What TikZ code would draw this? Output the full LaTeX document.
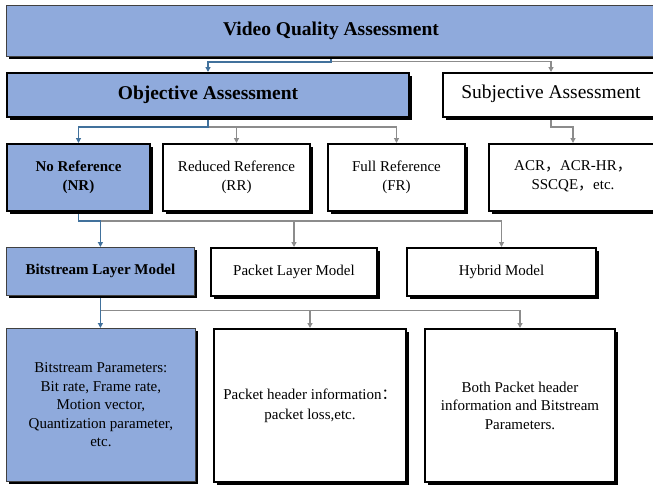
\documentclass[tikz,border=0pt]{standalone}
\usepackage{fontspec}
\setmainfont{Liberation Serif}
\newfontfamily\cjk{Noto Sans CJK SC}
\usetikzlibrary{arrows.meta,shadows}
\definecolor{c8faadc}{RGB}{143,170,220}
\definecolor{c41719c}{RGB}{65,113,156}
\definecolor{c8c8c8c}{RGB}{140,140,140}
\definecolor{c404040}{RGB}{64,64,64}
\pgfdeclarelayer{background}
\pgfsetlayers{background,main}
\tikzset{boxw/.style={draw=black,line width=2pt,fill=white,inner sep=0pt,anchor=north west,align=center,
drop shadow={shadow xshift=3pt,shadow yshift=-3pt,fill=black,opacity=1}},
boxb/.style={boxw,fill=c8faadc},
thin/.style={draw=c404040,line width=0.8pt},
blueline/.style={draw=c41719c,line width=1.5pt,-{Triangle[length=5pt,width=5pt]}},
grayline/.style={draw=c8c8c8c,line width=1.2pt,-{Triangle[length=5pt,width=5pt]}}}

\begin{document}
\begin{tikzpicture}[x=1pt,y=-1pt]
\useasboundingbox (0,0) rectangle (653,488);

\begin{scope}[every node/.style={font=\fontsize{19.5}{23}\selectfont}]
\node[boxb,thin,minimum width=654pt,minimum height=51pt] (vqa) at (6,5) {};
\node[font=\fontsize{19.5}{23}\selectfont\bfseries] (vqa-t) at (331,31) {Video Quality Assessment};
\node[boxb,minimum width=402pt,minimum height=44pt,font=\fontsize{19.5}{23}\selectfont\bfseries] (obj) at (6,72) {Objective Assessment};
\node[boxw,minimum width=218pt,minimum height=44pt] (subj) at (442,72) {};
\node (subj-t) at (551,94) {Subjective Assessment};
\end{scope}

\begin{scope}[every node/.style={font=\fontsize{15}{19.5}\selectfont}]
\node[boxb,minimum width=143pt,minimum height=67pt,font=\fontsize{15}{19.5}\selectfont\bfseries] (nr) at (6,143) {No Reference\\(NR)};
\node[boxw,minimum width=147pt,minimum height=67pt] (rr) at (162,143) {Reduced Reference\\(RR)};
\node[boxw,minimum width=137pt,minimum height=67pt] (fr) at (327,143) {Full Reference\\(FR)};
\node[boxw,minimum width=172pt,minimum height=67pt] (acr) at (488,143) {};
\node[align=center] (acr-t) at (573,176) {ACR{\cjk ，}ACR-HR{\cjk ，}\\SSCQE{\cjk ，}etc.};

\node[boxb,thin,minimum width=188pt,minimum height=48pt,font=\fontsize{15}{19.5}\selectfont\bfseries] (bsl) at (6,247) {Bitstream Layer Model};
\node[boxw,minimum width=166pt,minimum height=48pt] (pkl) at (210,247) {Packet Layer Model};
\node[boxw,minimum width=189pt,minimum height=48pt] (hyb) at (406,247) {Hybrid Model};

\node[boxb,thin,minimum width=189pt,minimum height=153pt,font=\fontsize{15}{18.5}\selectfont] (bsp) at (6,328)
{Bitstream Parameters:\\Bit rate, Frame rate,\\Motion vector,\\Quantization parameter,\\etc.};
\node[boxw,minimum width=192pt,minimum height=153pt,font=\fontsize{15}{20}\selectfont] (pkh) at (213,328)
{Packet header information{\cjk ：}\\packet loss,etc.};
\node[boxw,minimum width=190pt,minimum height=153pt,font=\fontsize{15}{18.5}\selectfont] (both) at (424,328)
{Both Packet header\\information and Bitstream\\Parameters.};
\end{scope}

% connectors behind the boxes
\begin{pgfonlayer}{background}
\draw[grayline] (vqa-t |- vqa.south) -- ++(0,5) -| (subj-t |- subj.north);
\draw[blueline] (vqa-t |- vqa.south) -- ++(0,5) -| (obj.north);
\draw[grayline] (obj.south) -- ++(0,9) -| (rr.north);
\draw[grayline] (obj.south) -- ++(0,9) -| (fr.north);
\draw[blueline] (obj.south) -- ++(0,9) -| (nr.north);
\draw[grayline] (subj-t |- subj.south) -- ++(0,9) -| (acr-t |- acr.north);
\draw[grayline] (nr.south) -- ++(0,9) -| (pkl.north);
\draw[grayline] (nr.south) -- ++(0,9) -| (hyb.north);
\draw[blueline] (nr.south) -- ++(0,9) -| (bsl.north);
\draw[grayline] (bsl.south) -- ++(0,15) -| (pkh.north);
\draw[grayline] (bsl.south) -- ++(0,15) -| (both.north);
\draw[blueline] (bsl.south) -- (bsl.south |- bsp.north);
\end{pgfonlayer}

\end{tikzpicture}
\end{document}
